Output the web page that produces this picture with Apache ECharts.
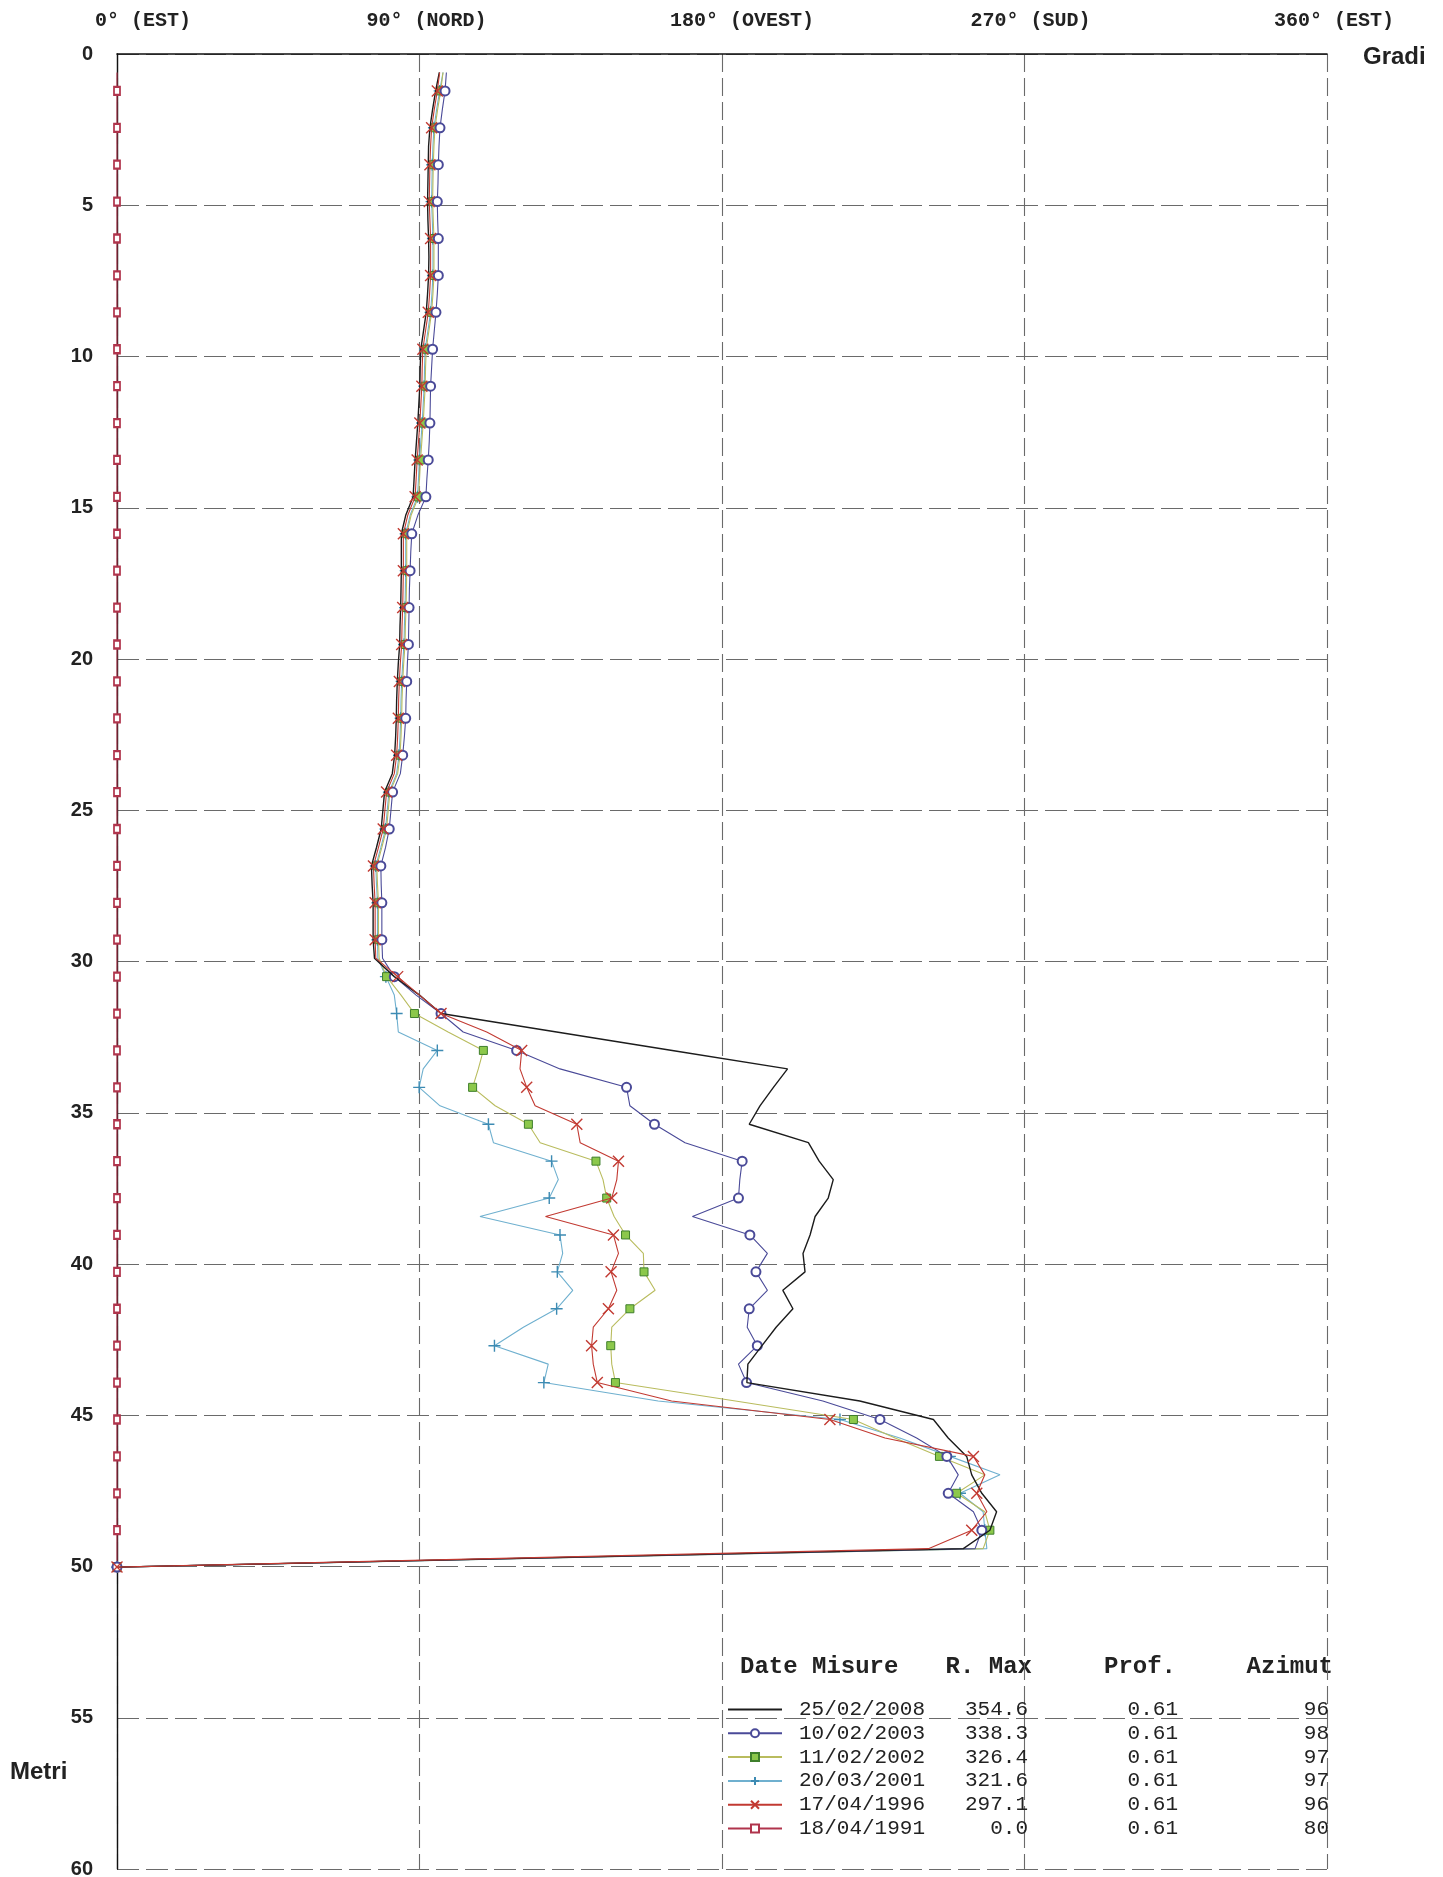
<!DOCTYPE html>
<html><head><meta charset="utf-8">
<script src="https://cdn.jsdelivr.net/npm/echarts/dist/echarts.min.js"></script>
<style>html,body{margin:0;padding:0;background:#fff}#c{width:1443px;height:1877px}</style>
</head><body><div id="c"></div>
<script>
// Depth of each reading (m), step 0.61 m
const depths = [0.61,1.22,1.83,2.44,3.05,3.66,4.27,4.88,5.49,6.10,6.71,7.32,7.93,8.54,9.15,9.76,10.37,10.98,11.59,12.20,12.81,13.42,14.03,14.64,15.25,15.86,16.47,17.08,17.69,18.30,18.91,19.52,20.13,20.74,21.35,21.96,22.57,23.18,23.79,24.40,25.01,25.62,26.23,26.84,27.45,28.06,28.67,29.28,29.89,30.50,31.11,31.72,32.33,32.94,33.55,34.16,34.77,35.38,35.99,36.60,37.21,37.82,38.43,39.04,39.65,40.26,40.87,41.48,42.09,42.70,43.31,43.92,44.53,45.14,45.75,46.36,46.97,47.58,48.19,48.80,49.41,50.02];

// Azimuth (degrees) per depth, one list per survey
const az2008 = [95.9,94.8,93.9,93.1,92.7,92.6,92.5,92.4,92.5,92.7,92.8,92.7,92.4,92.0,91.2,90.4,90.2,90.1,89.8,89.5,89.1,88.7,88.4,88.1,85.9,84.6,84.6,84.6,84.5,84.4,84.2,84.1,83.7,83.4,83.2,83.1,82.9,82.6,81.9,79.6,79.1,78.6,77.2,75.7,75.9,76.2,76.2,76.2,76.6,
  82.5,90.0,96.4,130.8,165.2,199.5,195.3,191.3,188.1,205.7,208.9,213.1,211.6,207.7,206.2,204.1,204.7,198.1,201.1,196.1,191.9,187.7,187.4,221.0,242.9,247.3,252.8,254.3,257.3,261.7,259.7,251.8,0];
const az2003 = [98.0,97.6,96.8,96.1,95.8,95.6,95.5,95.3,95.4,95.6,95.6,95.6,95.3,94.9,94.4,93.9,93.6,93.3,93.2,93.1,92.9,92.6,92.2,91.9,89.5,87.7,87.4,87.2,87.0,86.9,86.8,86.7,86.4,86.2,86.0,85.9,85.5,85.0,84.3,82.0,81.5,81.0,79.9,78.5,78.6,78.8,78.8,78.8,79.0,
  82.5,89.0,96.4,103.0,118.9,131.8,151.6,152.6,159.9,169.0,186.0,185.3,184.9,171.2,188.3,193.5,190.1,193.5,188.1,187.5,190.5,184.9,187.3,210.0,227.0,237.9,246.9,250.3,247.3,254.8,257.3,255.3,0];
const az2002 = [97.0,96.3,95.4,94.6,94.3,94.1,94.0,93.9,94.1,94.3,94.3,94.3,94.0,93.6,92.8,92.0,91.8,91.7,91.4,91.1,90.7,90.3,90.0,89.7,87.5,86.2,86.2,86.2,86.1,86.0,85.8,85.7,85.3,85.0,84.8,84.7,84.5,84.2,83.5,81.2,80.7,80.2,78.8,77.3,77.5,77.8,77.8,77.8,78.0,
  80.2,84.5,88.5,98.5,109.0,107.5,105.8,112.5,122.4,125.9,142.5,144.6,145.7,147.9,151.3,156.6,156.8,160.1,152.6,147.2,146.9,147.2,148.3,184.0,219.1,231.5,244.7,258.2,249.8,258.2,259.7,257.7,0];
const az2001 = [97.0,96.0,95.1,94.3,94.0,93.8,93.7,93.6,93.8,94.0,94.0,94.0,93.7,93.3,92.5,91.7,91.5,91.4,91.1,90.8,90.4,90.0,89.7,89.4,87.2,85.9,85.9,85.9,85.8,85.7,85.5,85.4,85.0,84.7,84.5,84.4,84.2,83.9,83.2,80.9,80.4,79.9,78.5,77.0,77.2,77.5,77.5,77.5,77.6,
  80.0,82.5,83.2,83.7,95.3,91.1,89.9,96.1,110.5,112.0,129.3,131.3,128.6,108.0,131.8,132.6,131.0,135.6,130.8,120.9,112.3,128.3,127.0,161.0,215.1,232.9,247.8,262.7,250.8,257.7,258.2,258.8,0];
const az1996 = [96.0,95.3,94.4,93.6,93.3,93.1,93.0,92.9,93.1,93.3,93.3,93.3,93.0,92.6,91.8,91.0,90.8,90.7,90.4,90.1,89.7,89.3,89.0,88.7,86.5,85.2,85.2,85.2,85.1,85.0,84.8,84.7,84.3,84.0,83.8,83.7,83.5,83.2,82.5,80.2,79.7,79.2,77.8,76.3,76.5,76.8,76.8,76.8,77.0,
  83.5,90.0,96.4,110.0,120.4,119.9,121.9,124.4,136.8,137.8,149.2,148.7,147.2,127.5,147.7,149.2,147.0,148.7,146.2,141.7,141.2,141.7,142.9,165.0,212.1,228.5,254.8,258.2,255.8,258.8,254.3,241.4,0];
const az1991 = [0,0,0,0,0,0,0,0,0,0,0,0,0,0,0,0,0,0,0,0,0,0,0,0,0,0,0,0,0,0,0,0,0,0,0,0,0,0,0,0,0,0,0,0,0,0,0,0,0,0,0,0,0,0,0,0,0,0,0,0,0,0,0,0,0,0,0,0,0,0,0,0,0,0,0,0,0,0,0,0,0,0];

// Legend table
const dates = ['25/02/2008','10/02/2003','11/02/2002','20/03/2001','17/04/1996','18/04/1991'];
const rMax = ['354.6','338.3','326.4','321.6','297.1','0.0'];
const prof = ['0.61','0.61','0.61','0.61','0.61','0.61'];
const azimut = ['96','98','97','97','96','80'];

// Axis ticks
const xTickLabels = {0:'0° (EST)', 90:'90° (NORD)', 180:'180° (OVEST)', 270:'270° (SUD)', 360:'360° (EST)'};
const xTickStyle = {0:'z', 90:'n', 180:'o', 270:'s', 360:'e'};

const MONO = '"Liberation Mono", "DejaVu Sans Mono", monospace';
const SANS = '"Liberation Sans", Arial, sans-serif';

const PLUS = 'path://M5,0 L5,10 M0,5 L10,5';
const CROSS = 'path://M0,0 L10,10 M10,0 L0,10';

function mkData(values){
  return depths.map((d,k) => (k % 2 === 0) ? {value:[values[k], d], symbol:'none'} : [values[k], d]);
}

const styles = [
  {values: az2008, symbol:'none', size:0, line:'#1c1c1c', lw:1.4, fill:'#1c1c1c', border:'#1c1c1c', z:6},
  {values: az2003, symbol:'emptyCircle', size:9, line:'#4a4a98', lw:1.1, fill:'#4a4a98', border:'#4a4a98', z:5},
  {values: az2002, symbol:'rect', size:8, line:'#b9bc5e', lw:1.1, fill:'#8cc84b', border:'#3f7f2c', z:4},
  {values: az2001, symbol:PLUS, size:12, line:'#6fb0cf', lw:1.1, fill:'#3d8bb3', border:'#3d8bb3', z:3},
  {values: az1996, symbol:CROSS, size:11, line:'#c23a32', lw:1.1, fill:'#c23a32', border:'#c23a32', z:7},
  {values: az1991, symbol:'emptyRect', size:[6,8], line:'#b0344c', lw:1.1, fill:'#b0344c', border:'#b0344c', z:2}
];

const series = styles.map((s,k) => ({
  type:'line',
  name: dates[k],
  data: mkData(s.values),
  symbol: s.symbol,
  symbolSize: s.size,
  showSymbol: s.symbol !== 'none',
  showAllSymbol: true,
  z: s.z,
  lineStyle: {color: s.line, width: s.lw},
  itemStyle: {color: s.fill, borderColor: s.border, borderWidth: (s.symbol === PLUS || s.symbol === CROSS) ? 1.4 : 1},
  emphasis: {disabled: true},
  silent: true
}));

const legendData = dates.map((d,k) => styles[k].symbol === 'none' ? {name:d, itemStyle:{opacity:0}} : {name:d});

const chart = echarts.init(document.getElementById('c'), null, {renderer:'canvas'});
chart.setOption({
  animation: false,
  backgroundColor: '#fff',
  grid: {left:117, right:116, top:54, bottom:8, containLabel:false, outerBoundsMode:'none'},
  xAxis: {
    type:'value', position:'top', min:0, max:360, interval:90,
    axisLine:{show:true, onZero:false, lineStyle:{color:'#111', width:1.6}},
    axisTick:{show:false},
    splitLine:{show:true, lineStyle:{color:'#6a6a6a', width:1.1, type:[18,6]}},
    axisLabel:{
      show:true, margin:23, showMinLabel:true, showMaxLabel:true,
      formatter: v => '{' + xTickStyle[v] + '|' + xTickLabels[v] + '}',
      rich:{
        z:{fontFamily:MONO, fontSize:20, fontWeight:'bold', color:'#222', padding:[0,0,0,52]},
        n:{fontFamily:MONO, fontSize:20, fontWeight:'bold', color:'#222', padding:[0,0,0,14]},
        o:{fontFamily:MONO, fontSize:20, fontWeight:'bold', color:'#222', padding:[0,0,0,40]},
        s:{fontFamily:MONO, fontSize:20, fontWeight:'bold', color:'#222', padding:[0,0,0,12]},
        e:{fontFamily:MONO, fontSize:20, fontWeight:'bold', color:'#222', padding:[0,0,0,14]}
      }
    }
  },
  yAxis: {
    type:'value', inverse:true, min:0, max:60, interval:5,
    axisLine:{show:true, onZero:false, lineStyle:{color:'#111', width:1.4}},
    axisTick:{show:false},
    splitLine:{show:true, lineStyle:{color:'#6a6a6a', width:1.1, type:[22,7]}},
    axisLabel:{show:true, margin:24, fontFamily:SANS, fontSize:20, fontWeight:'bold', color:'#222', showMinLabel:true, showMaxLabel:true}
  },
  legend: {
    show:true, orient:'vertical', left:727, top:1699, padding:0,
    itemGap:2.8, itemWidth:54, itemHeight:10, selectedMode:false,
    data: legendData,
    formatter: name => {
      const k = dates.indexOf(name);
      return '{s| }{d|' + name + '}{r|' + rMax[k] + '}{p|' + prof[k] + '}{a|' + azimut[k] + '}';
    },
    textStyle:{
      fontFamily:MONO, fontSize:21, color:'#222', lineHeight:20,
      rich:{
        s:{fontFamily:MONO, fontSize:21, width:12},
        d:{fontFamily:MONO, fontSize:21, color:'#222'},
        r:{fontFamily:MONO, fontSize:21, color:'#222', width:103, align:'right'},
        p:{fontFamily:MONO, fontSize:21, color:'#222', width:150, align:'right'},
        a:{fontFamily:MONO, fontSize:21, color:'#222', width:151, align:'right'}
      }
    }
  },
  graphic: [
    {type:'text', x:1363, y:57, silent:true, style:{text:'Gradi', font:'bold 24px ' + SANS, fill:'#222', align:'left', verticalAlign:'middle'}},
    {type:'text', x:10, y:1772, silent:true, style:{text:'Metri', font:'bold 24px ' + SANS, fill:'#222', align:'left', verticalAlign:'middle'}},
    {type:'text', x:740, y:1667, silent:true, style:{text:'Date Misure', font:'bold 24px ' + MONO, fill:'#222', align:'left', verticalAlign:'middle'}},
    {type:'text', x:1032, y:1667, silent:true, style:{text:'R. Max', font:'bold 24px ' + MONO, fill:'#222', align:'right', verticalAlign:'middle'}},
    {type:'text', x:1104, y:1667, silent:true, style:{text:'Prof.', font:'bold 24px ' + MONO, fill:'#222', align:'left', verticalAlign:'middle'}},
    {type:'text', x:1333, y:1667, silent:true, style:{text:'Azimut', font:'bold 24px ' + MONO, fill:'#222', align:'right', verticalAlign:'middle'}}
  ],
  series: series
});
</script>
</body></html>
